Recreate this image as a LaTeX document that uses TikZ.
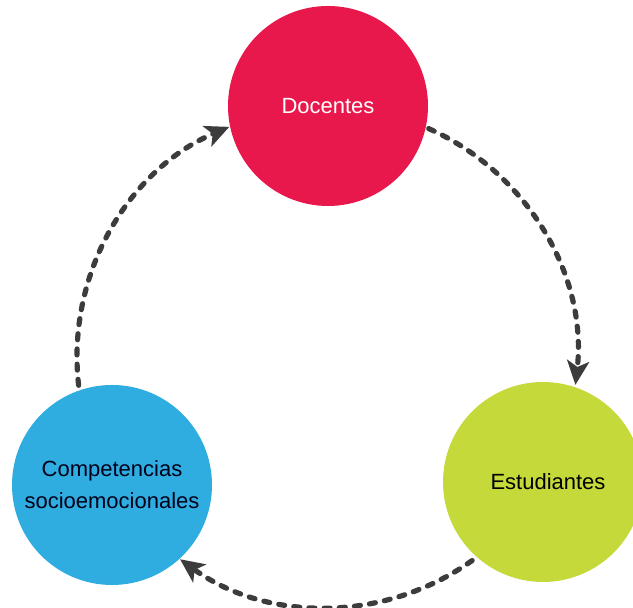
\documentclass[tikz,border=0pt]{standalone}
\usepackage{fontspec}
\setmainfont{Liberation Sans}
\usetikzlibrary{arrows.meta,calc}
\definecolor{cyRed}{HTML}{E8174C}
\definecolor{cyLime}{HTML}{C6D93B}
\definecolor{cyBlue}{HTML}{30ADE0}
\definecolor{cyGray}{HTML}{3C3C3C}

\begin{document}
\begin{tikzpicture}[x=0.5pt, y=0.5pt,
    actor/.style={circle, minimum size=100pt, inner sep=0pt, align=center, font=\fontsize{11pt}{16pt}\selectfont},
    flow/.style={cyGray, line width=2.6pt, line cap=round, dash pattern=on 3pt off 4.6pt,
                 -{Stealth[length=12pt, width=11pt, inset=3pt]}}]
    \clip (0,0) rectangle (633,608);
    % the three actors
    \node[actor, fill=cyRed, text=white] (docentes) at (328,502) {Docentes};
    \node[actor, fill=cyLime, text=black] (estudiantes) at (543,126) {\hspace*{5pt}Estudiantes};
    \node[actor, fill=cyBlue, text=black!90!blue] (competencias) at (112,123) {Competencias\\socioemocionales};
    % dashed cycle on a common ring
    \coordinate (ring) at (327,251);
    \coordinate (docOut) at ($(ring)+(66:125pt)$);
    \coordinate (estOut) at ($(ring)+(-54.5:125pt)$);
    \coordinate (comOut) at ($(ring)+(186.5:125pt)$);
    \draw[flow] (docOut) arc[start angle=66, end angle=-6.4, radius=125pt];
    \draw[flow] (estOut) arc[start angle=-54.5, end angle=-126, radius=125pt];
    \draw[flow] (comOut) arc[start angle=186.5, end angle=113, radius=125pt];
\end{tikzpicture}
\end{document}
